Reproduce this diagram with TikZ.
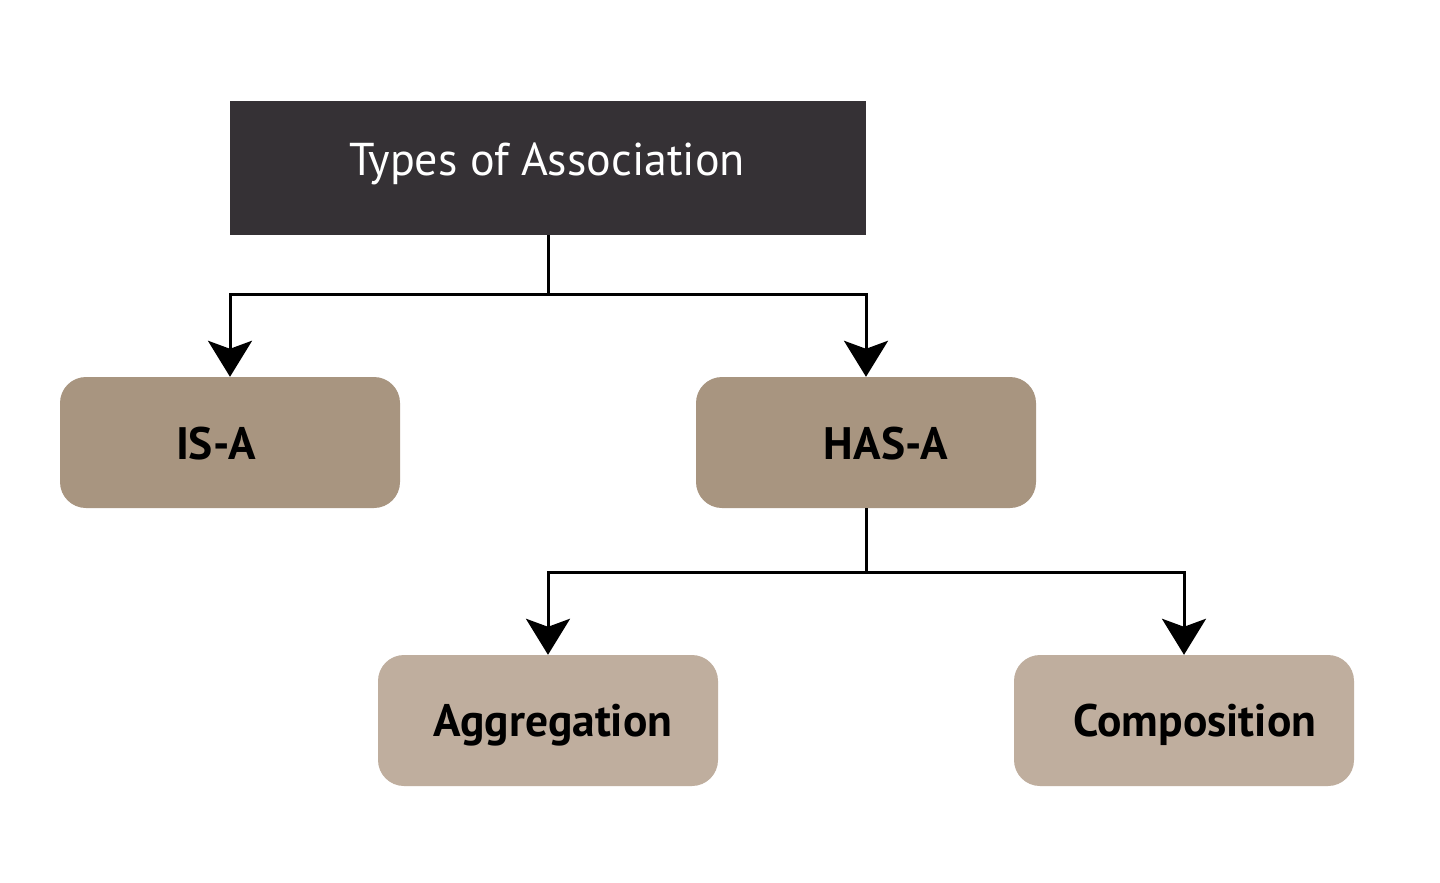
\documentclass[tikz,border=0pt]{standalone}
\usepackage{fontspec}
\setmainfont{PT Sans}
\usetikzlibrary{arrows.meta}
\definecolor{topfill}{HTML}{353135}
\definecolor{midfill}{HTML}{A89580}
\definecolor{lowfill}{HTML}{BFAE9E}
\begin{document}
\begin{tikzpicture}[x=1pt,y=-1pt,
  topbox/.style={fill=topfill, draw=none, minimum width=636pt, minimum height=134pt, inner sep=0pt},
  rbox/.style={draw=none, rounded corners=26pt, minimum width=340pt, minimum height=131pt, inner sep=0pt},
  toptext/.style={text=white, font=\fontsize{46}{52}\selectfont},
  boxtext/.style={text=black, font=\bfseries\fontsize{45.5}{52}\selectfont},
  conn/.style={line width=3pt, -{Stealth[length=36pt, width=44pt, inset=8pt]}},
  plain/.style={line width=3pt}]
\useasboundingbox (0,0) rectangle (1440,883);
\fill[white] (0,0) rectangle (1440,883);
\node[topbox] (top) at (548,168) {};
\node[toptext] (toptxt) at (547,164) {Types of Association};
\node[rbox, fill=midfill] (isa) at (230,442.5) {};
\node[boxtext] (isatxt) at (216,444) {IS-A};
\node[rbox, fill=midfill] (hasa) at (866,442.5) {};
\node[boxtext] (hasatxt) at (886,444) {HAS-A};
\node[rbox, fill=lowfill] (agg) at (548,720.5) {};
\node[boxtext] (aggtxt) at (553,725) {Aggregation};
\node[rbox, fill=lowfill] (comp) at (1184,720.5) {};
\node[boxtext] (comptxt) at (1195,725) {Composition};
\coordinate (j1) at (548,294);
\coordinate (j2) at (866,572);
\draw[plain] (top.south) -- (j1);
\draw[conn] (j1) -| (isa.north);
\draw[conn] (j1) -| (hasa.north);
\draw[plain] (hasa.south) -- (j2);
\draw[conn] (j2) -| (agg.north);
\draw[conn] (j2) -| (comp.north);
\end{tikzpicture}
\end{document}
